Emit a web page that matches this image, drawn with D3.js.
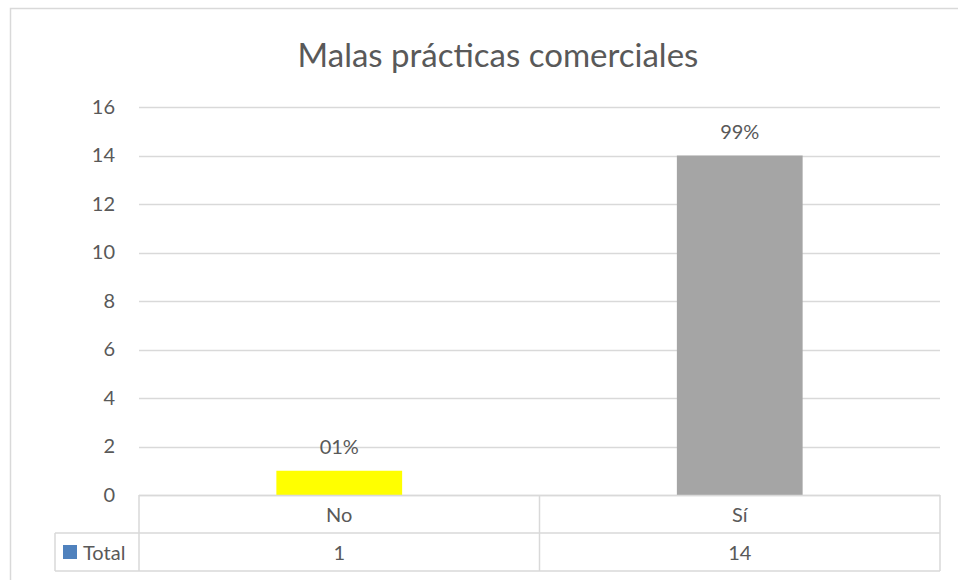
<!DOCTYPE html>
<html>
<head>
<meta charset="utf-8">
<script src="https://cdn.jsdelivr.net/npm/d3@7"></script>
<style>
  body { margin: 0; background: #fff; }
  text { font-family: Lato, "Open Sans", sans-serif; fill: #595959; }
</style>
</head>
<body>
<div id="chart"></div>
<script>
// chart values
var categories = ["No", "Sí"];
var totals = [1, 14];
var pctLabels = ["01%", "99%"];
var barColors = ["#ffff00", "#a5a5a5"];
var yTicks = [0, 2, 4, 6, 8, 10, 12, 14, 16];
var seriesName = "Total";

var width = 958, height = 580;
var margin = { top: 107, right: 18, bottom: 85, left: 139 },
    plotW = width - margin.left - margin.right,
    plotH = height - margin.top - margin.bottom;
var fontSize = "20px";

var svg = d3.select("#chart")
    .append("svg")
    .attr("width", width)
    .attr("height", height);

// outer chart border
svg.append("rect")
    .attr("x", 10.5).attr("y", 8.5)
    .attr("width", 960).attr("height", 600)
    .attr("fill", "none")
    .attr("stroke", "#d9d9d9")
    .attr("stroke-width", 1.5);

// title
svg.append("text")
    .attr("x", 498)
    .attr("y", 67)
    .attr("text-anchor", "middle")
    .style("font-size", "33px")
    .text("Malas prácticas comerciales");

var g = svg.append("g")
    .attr("transform", "translate(" + margin.left + "," + margin.top + ")");

var xScale = d3.scaleBand()
    .domain(categories)
    .range([0, plotW])
    .paddingInner(0.686)
    .paddingOuter(0.343);

var yScale = d3.scaleLinear().domain([0, 16]).range([plotH, 0]);

// gridlines
g.append("g")
    .selectAll("line")
    .data(yTicks)
    .enter()
    .append("line")
    .attr("x1", 0)
    .attr("x2", plotW)
    .attr("y1", function (d) { return Math.round(yScale(d)) + 0.5; })
    .attr("y2", function (d) { return Math.round(yScale(d)) + 0.5; })
    .attr("stroke", "#d9d9d9")
    .attr("stroke-width", 1.5);

// y axis labels
var yAxis = g.append("g")
    .attr("transform", "translate(-24,0)")
    .call(d3.axisLeft(yScale).tickValues(yTicks).tickSize(0).tickPadding(0));
yAxis.select(".domain").remove();
yAxis.selectAll("text")
    .style("font-size", fontSize)
    .style("font-family", "Lato, 'Open Sans', sans-serif")
    .attr("fill", "#595959");

// bars
g.selectAll(".bar")
    .data(totals)
    .enter()
    .append("rect")
    .attr("class", "bar")
    .attr("x", function (d, i) { return xScale(categories[i]); })
    .attr("y", function (d) { return yScale(d); })
    .attr("width", xScale.bandwidth())
    .attr("height", function (d) { return plotH - yScale(d); })
    .attr("fill", function (d, i) { return barColors[i]; });

// data labels
g.selectAll(".val")
    .data(totals)
    .enter()
    .append("text")
    .attr("class", "val")
    .attr("x", function (d, i) { return xScale(categories[i]) + xScale.bandwidth() / 2; })
    .attr("y", function (d) { return yScale(d) - 17; })
    .attr("text-anchor", "middle")
    .style("font-size", fontSize)
    .text(function (d, i) { return pctLabels[i]; });

// data table below the axis
var rowH = 38;
var step = xScale.step();
var headX = 55 - margin.left;
var tbl = g.append("g").attr("transform", "translate(0," + plotH + ")");
var lineStyle = function (sel) {
    sel.attr("stroke", "#d9d9d9").attr("stroke-width", 1.5).attr("fill", "none");
};

// horizontal lines
tbl.append("line").attr("x1", 0).attr("x2", plotW).attr("y1", 0.5).attr("y2", 0.5).call(lineStyle);
tbl.append("line").attr("x1", headX).attr("x2", plotW).attr("y1", rowH).attr("y2", rowH).call(lineStyle);
tbl.append("line").attr("x1", headX).attr("x2", plotW).attr("y1", rowH * 2).attr("y2", rowH * 2).call(lineStyle);
// vertical lines
tbl.append("line").attr("x1", headX).attr("x2", headX).attr("y1", rowH).attr("y2", rowH * 2).call(lineStyle);
tbl.selectAll(".vline")
    .data(d3.range(categories.length + 1))
    .enter()
    .append("line")
    .attr("class", "vline")
    .attr("x1", function (i) { return i * step; })
    .attr("x2", function (i) { return i * step; })
    .attr("y1", 0)
    .attr("y2", rowH * 2)
    .call(lineStyle);

// category labels
tbl.selectAll(".cat")
    .data(categories)
    .enter()
    .append("text")
    .attr("class", "cat")
    .attr("x", function (d, i) { return (i + 0.5) * step; })
    .attr("y", 27)
    .attr("text-anchor", "middle")
    .style("font-size", fontSize)
    .text(function (d) { return d; });

// value row
tbl.selectAll(".cell")
    .data(totals)
    .enter()
    .append("text")
    .attr("class", "cell")
    .attr("x", function (d, i) { return (i + 0.5) * step; })
    .attr("y", rowH + 27)
    .attr("text-anchor", "middle")
    .style("font-size", fontSize)
    .text(function (d) { return d; });

// legend key in the table header
tbl.append("rect")
    .attr("x", headX + 8)
    .attr("y", rowH + 12)
    .attr("width", 14)
    .attr("height", 14)
    .attr("fill", "#4f81bd");
tbl.append("text")
    .attr("x", headX + 28)
    .attr("y", rowH + 27)
    .style("font-size", fontSize)
    .text(seriesName);
</script>
</body>
</html>
